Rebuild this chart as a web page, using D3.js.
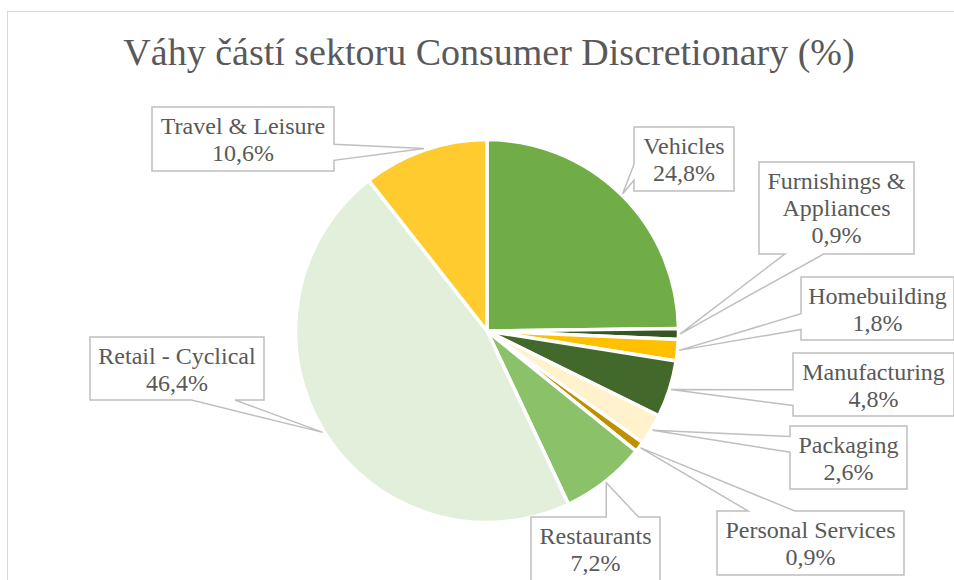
<!DOCTYPE html>
<html>
<head>
<meta charset="utf-8">
<script src="https://d3js.org/d3.v7.min.js"></script>
</head>
<body style="margin:0">
<script>
// DATA
const categories = ["Vehicles", "Furnishings & Appliances", "Homebuilding", "Manufacturing",
  "Packaging", "Personal Services", "Restaurants", "Retail - Cyclical", "Travel & Leisure"];
const sectorWeights = [24.8, 0.9, 1.8, 4.8, 2.6, 0.9, 7.2, 46.4, 10.6];
// how each category name is broken into lines inside its label box
const labelLines = [["Vehicles"], ["Furnishings &", "Appliances"], ["Homebuilding"], ["Manufacturing"],
  ["Packaging"], ["Personal Services"], ["Restaurants"], ["Retail - Cyclical"], ["Travel & Leisure"]];

function drawChart() {
  const W = 954, H = 580;
  const serifFont = "\"Liberation Serif\"";

  // label box layout: x, y, w, h
  const boxes = [
    [634, 127, 100, 64],
    [759, 162, 155, 92],
    [801, 277, 153, 63],
    [793, 353, 161, 63],
    [790, 426, 117, 63],
    [717, 511, 187, 64],
    [531, 517, 129, 64],
    [90, 337, 174, 63],
    [152, 107, 182, 64]
  ];
  const colors = ["#70AD47", "#375623", "#FFC000", "#43682B", "#FFF2CC", "#BF9000", "#8BC168", "#E2EFDA", "#FFCB2F"];
  const cx = 487, cy = 331, radius = 191.5;
  const fmtPct = v => d3.format(".1f")(v).replace(".", ",") + "%";

  //CREATE SVG
  const svg = d3.select("body").append("svg")
    .attr("width", W)
    .attr("height", H)
    .style("display", "block");

  // chart area border (runs off the right and bottom of the picture)
  svg.append("rect")
    .attr("x", 7.5).attr("y", 11.5)
    .attr("width", 980).attr("height", 620)
    .attr("fill", "#fff")
    .attr("stroke", "#D9D9D9");

  //TITLE
  svg.append("text")
    .attr("x", 489)
    .attr("y", 65)
    .attr("text-anchor", "middle")
    .attr("font-size", 38)
    .style("font-family", serifFont)
    .attr("fill", "#595959")
    .text("Váhy částí sektoru Consumer Discretionary (%)");

  //PIE
  const rows = categories.map((c, i) => ({ name: c, value: sectorWeights[i], lines: labelLines[i], box: boxes[i], color: colors[i] }));
  const slices = d3.pie().sort(null).value(d => d.value)(rows);
  const arcGen = d3.arc().innerRadius(0).outerRadius(radius);

  svg.append("g")
    .attr("transform", "translate(" + cx + "," + cy + ")")
    .selectAll("path")
    .data(slices)
    .enter()
    .append("path")
    .attr("d", arcGen)
    .attr("fill", d => d.data.color)
    .attr("stroke", "#fff")
    .attr("stroke-width", 3.5)
    .attr("stroke-linejoin", "round");

  // callout shape like excel's wedgeRectCallout: box + pointer to the slice edge
  function callout(b, tx, ty) {
    const [x, y, w, h] = b;
    const dx = tx - (x + w / 2), dy = ty - (y + h / 2);
    const dz = Math.abs(dy) - Math.abs(dx * h / w);
    const gx1 = x + w * (dx > 0 ? 7 : 2) / 12, gx2 = x + w * (dx > 0 ? 10 : 5) / 12;
    const gy1 = y + h * (dy > 0 ? 7 : 2) / 12, gy2 = y + h * (dy > 0 ? 10 : 5) / 12;
    const p = d3.path();
    if (dz > 0 && dy < 0) { // top
      p.moveTo(x, y); p.lineTo(gx1, y); p.lineTo(tx, ty); p.lineTo(gx2, y);
      p.lineTo(x + w, y); p.lineTo(x + w, y + h); p.lineTo(x, y + h);
    } else if (dz > 0) { // bottom
      p.moveTo(x, y); p.lineTo(x + w, y); p.lineTo(x + w, y + h);
      p.lineTo(gx2, y + h); p.lineTo(tx, ty); p.lineTo(gx1, y + h); p.lineTo(x, y + h);
    } else if (dx > 0) { // right
      p.moveTo(x, y); p.lineTo(x + w, y); p.lineTo(x + w, gy1); p.lineTo(tx, ty);
      p.lineTo(x + w, gy2); p.lineTo(x + w, y + h); p.lineTo(x, y + h);
    } else { // left
      p.moveTo(x, y); p.lineTo(x + w, y); p.lineTo(x + w, y + h); p.lineTo(x, y + h);
      p.lineTo(x, gy2); p.lineTo(tx, ty); p.lineTo(x, gy1);
    }
    p.closePath();
    return p.toString();
  }

  //LABELS
  const labelG = svg.selectAll(".label")
    .data(slices)
    .enter()
    .append("g")
    .attr("class", "label");

  labelG.append("path")
    .attr("d", d => {
      const mid = (d.startAngle + d.endAngle) / 2;
      return callout(d.data.box, cx + Math.sin(mid) * (radius + 1.5), cy - Math.cos(mid) * (radius + 1.5));
    })
    .attr("fill", "#fff")
    .attr("stroke", "#BFBFBF")
    .attr("stroke-width", 1.5);

  labelG.each(function (d) {
    const b = d.data.box;
    const lines = d.data.lines.concat([fmtPct(d.data.value)]);
    lines.forEach((l, i) => {
      d3.select(this).append("text")
        .attr("x", b[0] + b[2] / 2)
        .attr("y", b[1] + 27 + i * 27)
        .attr("text-anchor", "middle")
        .attr("font-size", 24)
        .style("font-family", serifFont)
        .attr("fill", "#595959")
        .text(l);
    });
  });
}

drawChart();
</script>
</body>
</html>
